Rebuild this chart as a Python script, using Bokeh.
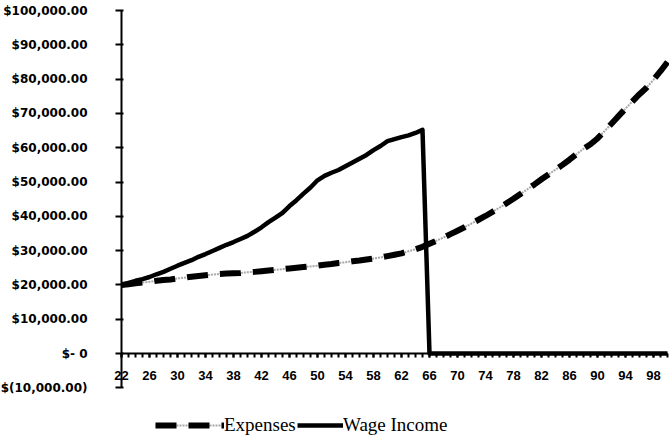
from bokeh.plotting import figure
from bokeh.models import Range1d, FixedTicker, Legend, LegendItem
from bokeh.embed import file_html
from bokeh.resources import INLINE

# ---- data ----
ages = list(range(22, 101))

expenses = [
    20000, 20200, 20500, 20700, 20900, 21200, 21400, 21600, 21900, 22100,  # 22-31
    22400, 22600, 22800, 23000, 23200, 23300, 23400, 23500, 23700, 23800,  # 32-41
    24000, 24200, 24400, 24600, 24800, 25000, 25200, 25400, 25600, 25900,  # 42-51
    26100, 26400, 26600, 26900, 27100, 27400, 27700, 28000, 28400, 28800,  # 52-61
    29200, 29800, 30400, 31100, 32000, 32900, 33800, 34800, 35800, 36800,  # 62-71
    37900, 39000, 40100, 41300, 42500, 43800, 45100, 46500, 47900, 49300,  # 72-81
    50800, 52200, 53600, 55000, 56500, 58100, 59700, 61000, 62700, 64800,  # 82-91
    67000, 69200, 71400, 73500, 75600, 77500, 79800, 82300, 85000,         # 92-100
]

wage_income = [
    20000, 20600, 21200, 21700, 22300, 23100, 23800, 24700, 25600, 26400,  # 22-31
    27200, 28200, 29000, 29900, 30800, 31700, 32500, 33400, 34300, 35500,  # 32-41
    36800, 38300, 39600, 41000, 43000, 44700, 46600, 48400, 50500, 51800,  # 42-51
    52700, 53500, 54600, 55700, 56800, 57900, 59300, 60500, 61900, 62500,  # 52-61
    63100, 63600, 64300, 65200, 0, 0, 0, 0, 0, 0,                          # 62-71
    0, 0, 0, 0, 0, 0, 0, 0, 0, 0,                                          # 72-81
    0, 0, 0, 0, 0, 0, 0, 0, 0, 0,                                          # 82-91
    0, 0, 0, 0, 0, 0, 0, 0, 0,                                             # 92-100
]

y_ticks = [-10000, 0, 10000, 20000, 30000, 40000, 50000, 60000, 70000, 80000, 90000, 100000]
y_tick_labels = ["$(10,000.00)", "$- 0", "$10,000.00", "$20,000.00", "$30,000.00",
                 "$40,000.00", "$50,000.00", "$60,000.00", "$70,000.00", "$80,000.00",
                 "$90,000.00", "$100,000.00"]
x_ticks = [22, 26, 30, 34, 38, 42, 46, 50, 54, 58, 62, 66, 70, 74, 78, 82, 86, 90, 94, 98]

# ---- figure: the frame fills the canvas, both axes sit at fixed locations ----
p = figure(width=669, height=439, output_backend="svg", toolbar_location=None,
           x_range=Range1d(4.71, 100.29), y_range=Range1d(-25070, 102920),
           min_border_left=0, min_border_right=0, min_border_top=0, min_border_bottom=0)
p.outline_line_color = None
p.xgrid.visible = False
p.ygrid.visible = False
p.background_fill_color = "white"
p.border_fill_color = "white"

r_exp_under = p.line(ages, expenses, line_color="#a8a8a8", line_width=2, line_dash="2 1")
r_exp = p.line(ages, expenses, line_color="black", line_width=6, line_dash="21 12", line_cap="butt")
r_wage = p.line(ages, wage_income, line_color="black", line_width=4.5, line_join="round")

# y axis, crossing at the first age
ya = p.yaxis[0]
ya.fixed_location = ages[0]
ya.ticker = FixedTicker(ticks=y_ticks, minor_ticks=[])
ya.major_label_overrides = {t: s for t, s in zip(y_ticks, y_tick_labels)}
ya.bounds = (y_ticks[0], y_ticks[-1])
ya.axis_line_width = 2
ya.axis_line_color = "black"
ya.major_tick_line_width = 2
ya.major_tick_out = 6
ya.major_tick_in = 2
ya.minor_tick_out = 0
ya.minor_tick_in = 0
ya.major_label_standoff = 28
ya.major_label_text_font = "DejaVu Sans"
ya.major_label_text_font_style = "bold"
ya.major_label_text_font_size = "12px"
ya.major_label_text_color = "black"

# x axis, crossing at zero
xa = p.xaxis[0]
xa.fixed_location = 0
xa.ticker = FixedTicker(ticks=x_ticks, minor_ticks=ages)
xa.bounds = (ages[0], ages[-1])
xa.axis_line_width = 2
xa.axis_line_color = "black"
xa.major_tick_line_width = 2
xa.minor_tick_line_width = 2
xa.major_tick_out = 4
xa.major_tick_in = 0
xa.minor_tick_out = 4
xa.minor_tick_in = 0
xa.minor_tick_line_color = "black"
xa.major_label_standoff = 13
xa.major_label_text_font = "Liberation Sans"
xa.major_label_text_font_style = "bold"
xa.major_label_text_font_size = "13px"
xa.major_label_text_color = "black"

legend_style = dict(orientation="horizontal", padding=0, margin=0, spacing=0,
                    label_standoff=0, glyph_height=20, label_height=20,
                    label_text_font="Liberation Serif", label_text_font_size="19px",
                    label_text_color="black", border_line_alpha=0,
                    background_fill_alpha=0)
legend_exp = Legend(items=[LegendItem(label="Expenses", renderers=[r_exp_under, r_exp])],
                    location=(155, 3), glyph_width=69, **legend_style)
legend_wage = Legend(items=[LegendItem(label="Wage Income", renderers=[r_wage])],
                     location=(297, 3), glyph_width=46, **legend_style)
p.add_layout(legend_exp)
p.add_layout(legend_wage)

open("out.html", "w").write(file_html(p, INLINE))
